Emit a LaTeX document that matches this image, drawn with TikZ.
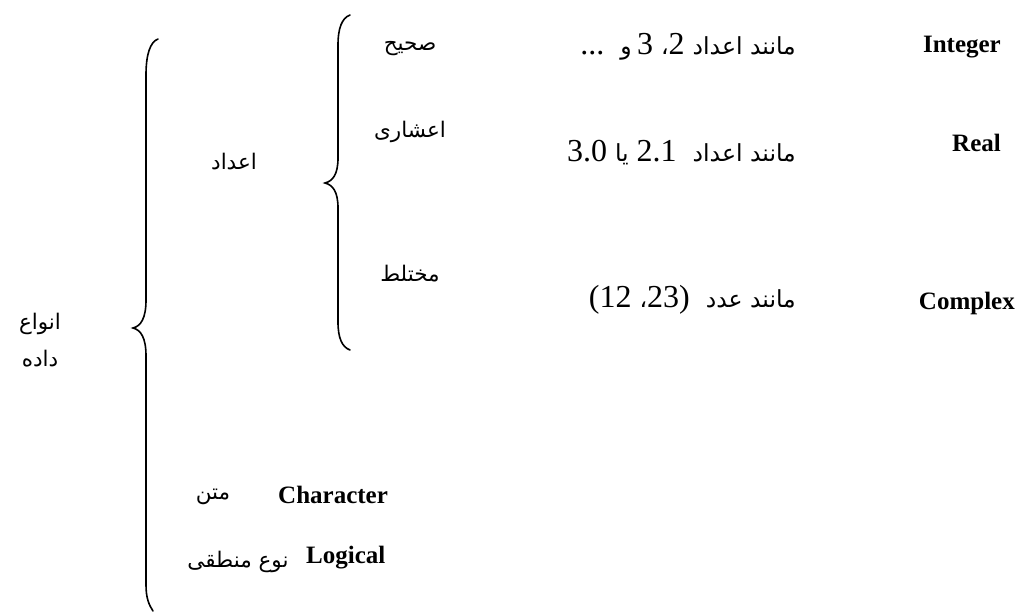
\documentclass[tikz,border=0pt]{standalone}
\usepackage{fontspec}
\setmainfont{Liberation Serif}
\newfontfamily\arfont[Script=Arabic]{DejaVu Sans}
\TeXXeTstate=1
\newcommand\fatxt[1]{{\fontsize{23.5}{27}\selectfont\arfont\beginR #1\endR}}
\begin{document}
\begin{tikzpicture}[x=1pt,y=-1pt,
  lat/.style={inner sep=0pt,font=\fontsize{25}{28}\selectfont\bfseries},
  per/.style={inner sep=0pt,font=\fontsize{21.5}{26}\selectfont\arfont},
  mix/.style={inner sep=0pt,font=\fontsize{32}{34}\selectfont},
  brace/.style={line width=1.6pt,line cap=round}]
\useasboundingbox (0,0) rectangle (1024,611);
% big brace
\draw[brace] (158,39) .. controls (150,42) and (146,55) .. (146,75) -- (146,300)
  .. controls (146,318) and (141,326) .. (133,328)
  .. controls (141,330) and (146,338) .. (146,356) -- (146,585)
  .. controls (146,598) and (149,605) .. (153,611);
% small brace
\draw[brace] (350,15) .. controls (342,18) and (338,28) .. (338,45) -- (338,158)
  .. controls (338,174) and (333,181) .. (325,183)
  .. controls (333,185) and (338,192) .. (338,208) -- (338,322)
  .. controls (338,338) and (342,347) .. (350,350);
% left labels
\node[per] (anva) at (40,324) {\beginR انواع\endR};
\node[per] (dade) at (40,359) {\beginR داده\endR};
\node[per] (adad) at (234,162) {\beginR اعداد\endR};
% middle column
\node[per] (sahih) at (410,49) {\beginR صحیح\endR};
\node[per] (ashari) at (410,132) {\beginR اعشاری\endR};
\node[per] (mokh) at (410,274) {\beginR مختلط\endR};
% examples (visual left-to-right order)
\node[mix,anchor=east] (ex1) at (796,47) {...\ \ \fatxt{و}\,3 \fatxt{،}2\ \fatxt{مانند اعداد}};
\node[mix,anchor=east] (ex2) at (796,153) {3.0 \fatxt{یا} 2.1\ \ \fatxt{مانند اعداد}};
\node[mix,anchor=east] (ex3) at (796,300) {(12 \fatxt{،}23)\ \ \fatxt{مانند عدد}};
% english names
\node[lat,anchor=east] (int) at (1001,47) {Integer};
\node[lat,anchor=east] (real) at (1001,143) {Real};
\node[lat,anchor=east] (cplx) at (1015,303) {Complex};
% bottom rows
\node[per] (matn) at (213,497) {\beginR متن\endR};
\node[lat,anchor=west] (char) at (278,495) {Character};
\node[per] (mant) at (238,562) {\beginR نوع منطقی\endR};
\node[lat,anchor=west] (logi) at (306,558) {Logical};
\end{tikzpicture}
\end{document}
